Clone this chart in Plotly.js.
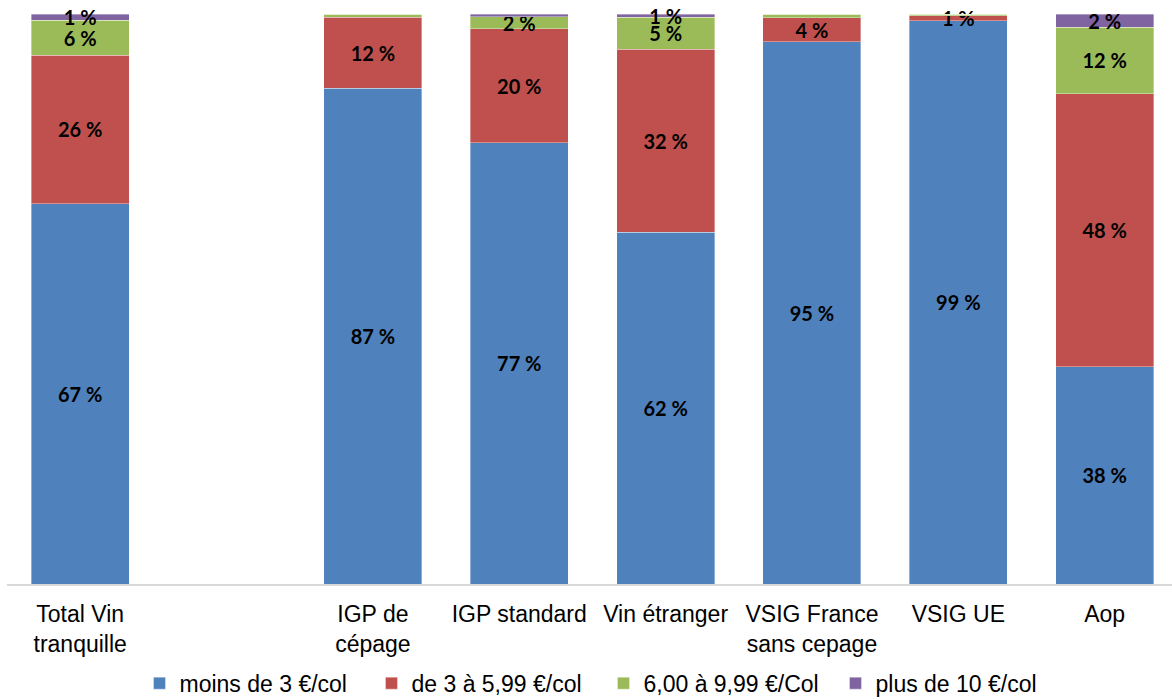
<!DOCTYPE html>
<html>
<head>
<meta charset="utf-8">
<script src="https://cdn.plot.ly/plotly-3.0.1.min.js"></script>
<style>html,body{margin:0;padding:0;background:#fff;}#chart{width:1172px;height:700px;}</style>
</head>
<body>
<div id="chart"></div>
<script>
var categories = ['Total Vin tranquille', ' ', 'IGP de cépage', 'IGP standard', 'Vin étranger', 'VSIG France sans cepage', 'VSIG UE', 'Aop'];
var tickLabels = ['Total Vin<br>tranquille', '', 'IGP de<br>cépage', 'IGP standard', 'Vin étranger', 'VSIG France<br>sans cepage', 'VSIG UE', 'Aop'];

var seriesNames = ['moins de 3 €/col', 'de 3 à 5,99 €/col', '6,00 à 9,99 €/Col', 'plus de 10 €/col'];
var colors = ['#4F81BD', '#C0504D', '#9BBB59', '#8064A2'];

var moins3 = [66.7, null, 87.0, 77.4, 61.7, 95.1, 98.8, 38.1];
var de3    = [26.1, null, 12.4, 20.0, 32.1, 4.2, 0.9, 47.9];
var de6    = [6.1, null, 0.6, 2.1, 5.6, 0.7, 0.3, 11.7];
var plus10 = [1.1, null, 0, 0.5, 0.6, 0, 0, 2.3];

// data labels as displayed on the chart (null = no label)
var lblMoins3 = [67, null, 87, 77, 62, 95, 99, 38];
var lblDe3    = [26, null, 12, 20, 32, 4, 1, 48];
var lblDe6    = [6, null, null, 2, 5, null, null, 12];
var lblPlus10 = [1, null, null, null, 1, null, null, 2];

var values = [moins3, de3, de6, plus10];
var labels = [lblMoins3, lblDe3, lblDe6, lblPlus10];

var traces = values.map(function (v, i) {
  return {
    type: 'bar',
    name: seriesNames[i],
    x: categories,
    y: v,
    text: labels[i].map(function (l) { return l === null ? '' : l + ' %'; }),
    textposition: 'inside',
    insidetextanchor: 'middle',
    textangle: 0,
    constraintext: 'none',
    cliponaxis: false,
    textfont: {family: 'Lato', size: 20, color: '#000', weight: 'bold'},
    marker: {color: colors[i], line: {color: 'rgba(255,255,255,0.6)', width: 0.6}},
    hoverinfo: 'none'
  };
});

var layout = {
  width: 1172,
  height: 700,
  barmode: 'stack',
  bargap: 0.33,
  margin: {l: 7, r: 0, t: 14, b: 116, pad: 0, autoexpand: false},
  paper_bgcolor: '#fff',
  plot_bgcolor: '#fff',
  showlegend: true,
  xaxis: {
    type: 'category',
    range: [-0.5, 7.46],
    tickmode: 'array',
    tickvals: categories,
    ticktext: tickLabels,
    automargin: false,
    showline: true,
    linecolor: '#D9D9D9',
    linewidth: 1.5,
    showgrid: false,
    zeroline: false,
    ticks: '',
    ticklabelstandoff: 9,
    tickfont: {family: 'Liberation Sans', size: 23, color: '#000'},
    fixedrange: true
  },
  yaxis: {
    range: [0, 100],
    visible: false,
    showgrid: false,
    zeroline: false,
    fixedrange: true
  },
  legend: {
    orientation: 'h',
    x: 0.512,
    xanchor: 'center',
    yref: 'container',
    y: 0.024,
    yanchor: 'middle',
    traceorder: 'normal',
    entrywidth: 187,
    entrywidthmode: 'pixels',
    font: {family: 'Liberation Sans', size: 23, color: '#000'},
    bgcolor: 'rgba(0,0,0,0)'
  }
};

Plotly.newPlot('chart', traces, layout, {displayModeBar: false, staticPlot: true});
</script>
</body>
</html>
